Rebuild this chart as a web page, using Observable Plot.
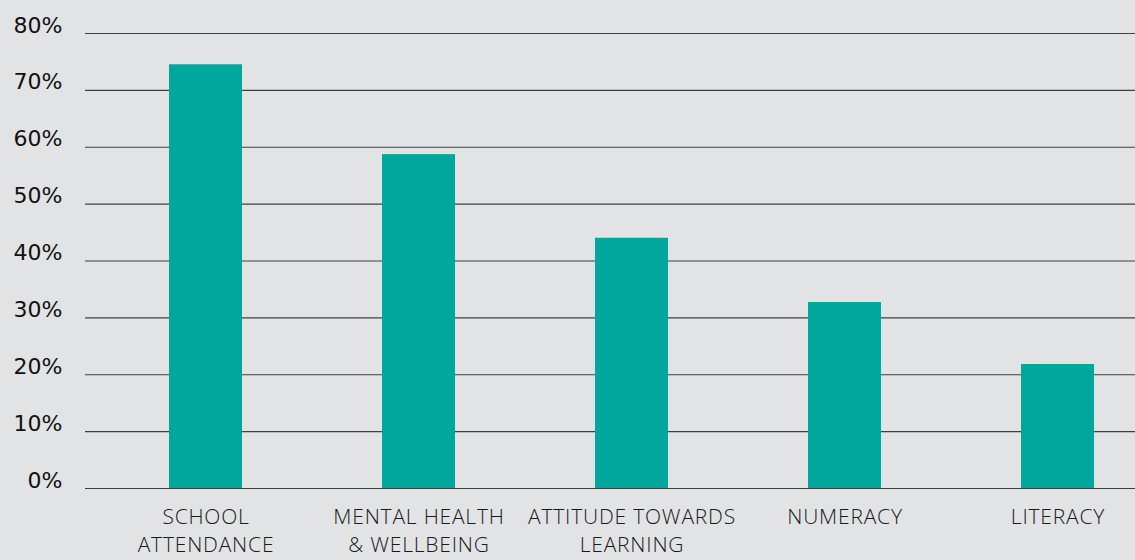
<!DOCTYPE html>
<html>
<head>
<meta charset="utf-8">
<script src="https://cdn.jsdelivr.net/npm/d3@7"></script>
<script src="https://cdn.jsdelivr.net/npm/@observablehq/plot@0.6"></script>
<style>
  html, body { margin: 0; padding: 0; background: #e2e3e5; }
  #chart svg { display: block; background: #e2e3e5; }
  #chart svg g[aria-label="x-axis tick label"] text { letter-spacing: 0.8px; }
</style>
</head>
<body>
<div id="chart"></div>
<script>
const categories = ["SCHOOL\nATTENDANCE", "MENTAL HEALTH\n& WELLBEING", "ATTITUDE TOWARDS\nLEARNING", "NUMERACY", "LITERACY"];
const values = [74.5, 58.7, 44.0, 32.7, 21.8];
const yTicks = [0, 10, 20, 30, 40, 50, 60, 70, 80];

const data = categories.map((c, i) => ({category: c, value: values[i]}));

const chart = Plot.plot({
  width: 1135,
  height: 560,
  marginLeft: 85,
  marginRight: 0,
  marginTop: 33,
  marginBottom: 72,
  style: {background: "#e2e3e5", overflow: "visible"},
  x: {type: "band", domain: categories, range: [167, 1095], paddingInner: 0.658, paddingOuter: 0, label: null},
  y: {domain: [0, 80], label: null},
  marks: [
    Plot.ruleY(yTicks, {stroke: "#404040", strokeWidth: 1.2}),
    Plot.barY(data, {x: "category", y: "value", fill: "#00a79d"}),
    Plot.axisY(yTicks, {
      tickSize: 0, tickPadding: 23, dy: -8,
      tickFormat: d => d + "%",
      fontSize: 22, fontFamily: "DejaVu Sans", fontWeight: 400, fill: "#111",
      label: null
    }),
    Plot.axisX({
      tickSize: 0, tickPadding: 15,
      fontSize: 21, fontFamily: "Open Sans", fontWeight: 300, fill: "#1a1a1a",
      lineHeight: 1.36, label: null
    })
  ]
});
document.getElementById("chart").appendChild(chart);
</script>
</body>
</html>
